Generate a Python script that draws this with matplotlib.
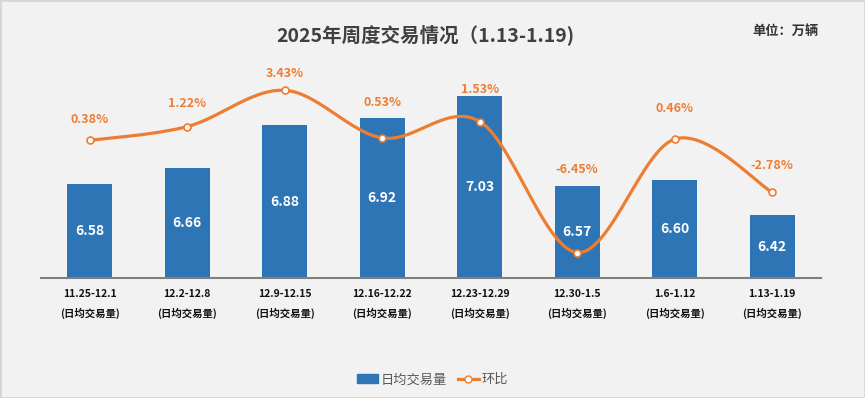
import numpy as np
import matplotlib.pyplot as plt
from matplotlib.patches import Rectangle
from matplotlib.lines import Line2D

plt.rcParams['font.family'] = ['Noto Sans CJK SC', 'DejaVu Sans']

weeks = ['11.25-12.1', '12.2-12.8', '12.9-12.15', '12.16-12.22',
         '12.23-12.29', '12.30-1.5', '1.6-1.12', '1.13-1.19']
volume = [6.58, 6.66, 6.88, 6.92, 7.03, 6.57, 6.60, 6.42]   # 万辆, daily avg
mom = [0.38, 1.22, 3.43, 0.53, 1.53, -6.45, 0.46, -2.78]   # %

# how far each % label sits above its point (pixels)
label_dy = [21, 23, 17, 35, 32, 83, 31, 27]

blue = '#2e75b6'
orange = '#ed7d31'
bg = '#f2f2f2'


def smooth(xs, ys, n=30):
    # excel-like smoothed line (catmull-rom as bezier)
    xs = np.asarray(xs, float)
    ys = np.asarray(ys, float)
    px = np.concatenate([[xs[0]], xs, [xs[-1]]])
    py = np.concatenate([[ys[0]], ys, [ys[-1]]])
    outx, outy = [], []
    t = np.linspace(0, 1, n)
    for i in range(1, len(px) - 2):
        p0 = np.array([px[i], py[i]])
        p3 = np.array([px[i + 1], py[i + 1]])
        c1 = p0 + (p3 - np.array([px[i - 1], py[i - 1]])) / 6
        c2 = p3 - (np.array([px[i + 2], py[i + 2]]) - p0) / 6
        b = ((1 - t) ** 3)[:, None] * p0 + (3 * (1 - t) ** 2 * t)[:, None] * c1 \
            + (3 * (1 - t) * t ** 2)[:, None] * c2 + (t ** 3)[:, None] * p3
        outx.extend(b[:, 0])
        outy.extend(b[:, 1])
    return outx, outy


fig = plt.figure(figsize=(8.65, 3.98), dpi=100, facecolor=bg)
fig.patches.append(Rectangle((0, 0), 1, 1, transform=fig.transFigure,
                             fill=False, edgecolor='#d6d6d6', lw=2))
ax = fig.add_axes([0.0474, 0.3015, 0.9017, 0.5405])
ax.set_facecolor(bg)

x = np.arange(len(weeks))
ax.bar(x, volume, width=0.46, color=blue, zorder=2)
ax.set_ylim(6.1, 7.2)
ax.set_xlim(-0.5, len(weeks) - 0.5)
for xi, v in zip(x, volume):
    ax.text(xi, (6.1 + v) / 2, f'{v:.2f}', ha='center', va='center',
            color='white', fontsize=10, fontweight='bold', zorder=3)

ax.set_xticks(x)
ax.set_xticklabels([w + '\n(日均交易量)' for w in weeks], fontsize=7.5,
                   fontweight='bold', linespacing=1.9, color='#111111')
ax.tick_params(axis='x', length=0, pad=8)
ax.set_yticks([])
for s in ['top', 'right', 'left']:
    ax.spines[s].set_visible(False)
ax.spines['bottom'].set_color('#808080')
ax.spines['bottom'].set_linewidth(1.5)

ax2 = ax.twinx()
ax2.set_ylim(-8, 5.1)
ax2.set_yticks([])
for s in ax2.spines.values():
    s.set_visible(False)
sx, sy = smooth(x, mom)
ax2.plot(sx, sy, color=orange, lw=2.3, zorder=4, solid_capstyle='round')
ax2.plot(x, mom, 'o', ms=5, mfc='white', mec=orange, mew=1.2, zorder=5)
for xi, m, dy in zip(x, mom, label_dy):
    ax2.annotate(f'{m:.2f}%', (xi, m), xytext=(0, dy),
                 textcoords='offset pixels', ha='center', va='center',
                 color=orange, fontsize=9, fontweight='bold')

fig.text(0.492, 0.913, '2025年周度交易情况（1.13-1.19)', ha='center',
         va='center', fontsize=14, fontweight='bold', color='#404040')
fig.text(0.946, 0.922, '单位：万辆', ha='right', va='center', fontsize=9.5,
         fontweight='bold', color='#333333')

handles = [Rectangle((0, 0), 1, 1, color=blue),
           Line2D([], [], color=orange, lw=2.3, marker='o', ms=5,
                  mfc='white', mec=orange)]
fig.legend(handles, ['日均交易量', '环比'], loc='center',
           bbox_to_anchor=(0.5, 0.046), ncol=2, frameon=False,
           fontsize=9.5, labelcolor='#595959', handlelength=1.6,
           handletextpad=0.2, columnspacing=0.8)

fig.savefig('out.png', dpi=100, facecolor=bg)
